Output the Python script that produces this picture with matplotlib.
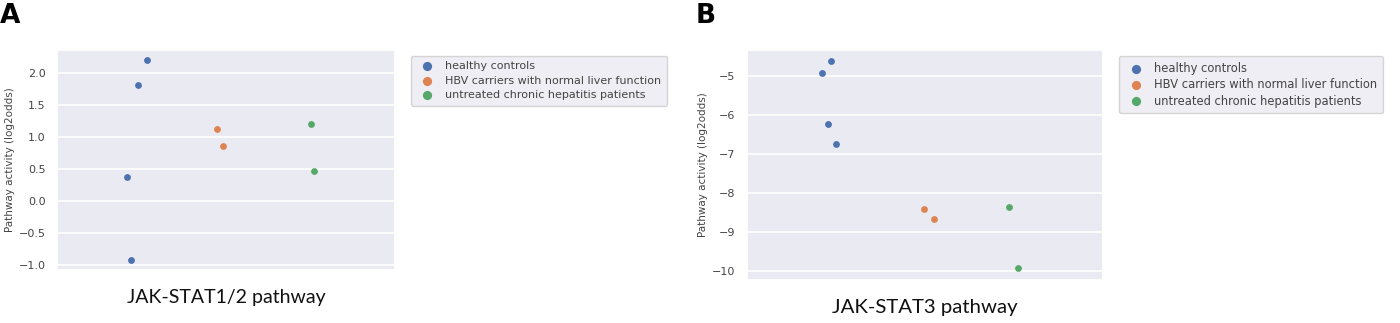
import matplotlib
matplotlib.use("Agg")
import matplotlib.pyplot as plt
import seaborn as sns

sns.set_theme(style="darkgrid")
plt.rcParams['font.family'] = ['DejaVu Sans']

groups = ["healthy controls",
          "HBV carriers with normal liver function",
          "untreated chronic hepatitis patients"]
colors = ["#4C72B0", "#DD8452", "#55A868"]

# panel A: JAK-STAT1/2
a_values = [[2.20, 1.82, 0.37, -0.93],
            [1.12, 0.86],
            [1.20, 0.47]]
a_jitter = [[0.032, 0.006, -0.027, -0.015],
            [-0.026, -0.010],
            [-0.015, -0.006]]

# panel B: JAK-STAT3
b_values = [[-4.60, -4.90, -6.22, -6.74],
            [-8.41, -8.68],
            [-8.36, -9.93]]
b_jitter = [[0.004, -0.022, -0.006, 0.017],
            [-0.002, 0.025],
            [-0.030, -0.004]]

fig = plt.figure(figsize=(14, 3.23), dpi=100)


# stripplot-like drawing with dodge
def draw_panel(ax, values, jitter, xlabel, ylim, yticks, lab_size, leg_size, leg_anchor, spacing):
    dodge = [-0.267, 0.0, 0.267]
    for i, g in enumerate(groups):
        xs = [dodge[i] + j for j in jitter[i]]
        ax.scatter(xs, values[i], s=24, color=colors[i], linewidth=0, label=g, zorder=3)
    ax.set_xlim(-0.5, 0.5)
    ax.set_ylim(*ylim)
    ax.set_yticks(yticks)
    ax.set_xticks([])
    ax.tick_params(axis='y', labelsize=8, pad=2, colors='#444444')
    ax.set_ylabel("Pathway activity (log2odds)", fontsize=7.5, color='#444444', labelpad=3)
    ax.set_xlabel(xlabel, fontsize=lab_size, family=['Lato', 'DejaVu Sans'], labelpad=14, color='#111111')
    ax.grid(axis='x', visible=False)
    ax.grid(axis='y', color='white', linewidth=1.2)
    ax.set_facecolor('#EAEAF2')
    leg = ax.legend(loc='upper left', bbox_to_anchor=leg_anchor, fontsize=leg_size,
                    frameon=True, handletextpad=0.6, borderpad=0.5,
                    labelspacing=spacing, markerscale=1.35)
    leg.get_frame().set_facecolor('#EAEAF2')
    leg.get_frame().set_edgecolor('#CCCCCC')
    for t in leg.get_texts():
        t.set_color('#444444')


ax1 = fig.add_axes([0.0407, 0.164, 0.2414, 0.681])
draw_panel(ax1, a_values, a_jitter, "JAK-STAT1/2 pathway",
           (-1.08, 2.36), [-1.0, -0.5, 0.0, 0.5, 1.0, 1.5, 2.0],
           14, 8, (1.03, 1.0), 0.4)

ax2 = fig.add_axes([0.5333, 0.133, 0.2545, 0.712])
draw_panel(ax2, b_values, b_jitter, "JAK-STAT3 pathway",
           (-10.24, -4.32), [-10, -9, -8, -7, -6, -5],
           14.7, 8.3, (1.028, 1.0), 0.3)

fig.text(0.0, 0.99, "A", fontsize=19, fontweight='bold', va='top', ha='left', color='black')
fig.text(0.497, 0.99, "B", fontsize=19, fontweight='bold', va='top', ha='left', color='black')

fig.savefig("out.png", dpi=100, facecolor='white')
